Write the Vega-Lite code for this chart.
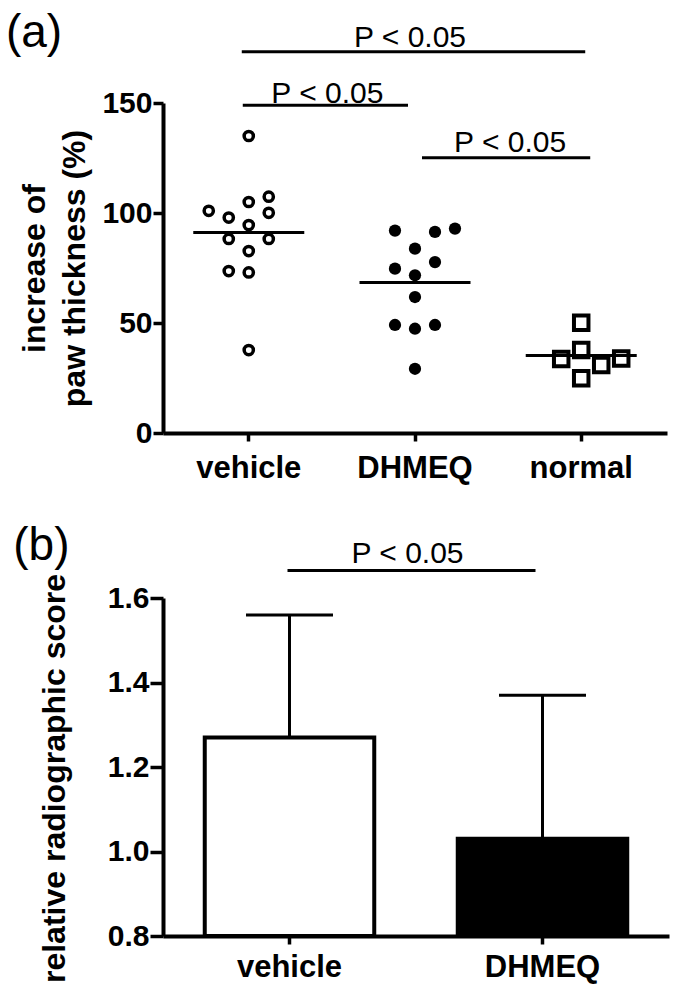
{
  "$schema": "https://vega.github.io/schema/vega-lite/v6.json",
  "background": "white",
  "padding": {"left": 5, "top": 9, "right": 5, "bottom": 5},
  "spacing": 39,
  "datasets": {
    "paw": [
      {"group": "vehicle", "value": 135, "col": 0},
      {"group": "vehicle", "value": 107.4, "col": 1},
      {"group": "vehicle", "value": 105, "col": 0},
      {"group": "vehicle", "value": 101, "col": -2},
      {"group": "vehicle", "value": 100.1, "col": 1},
      {"group": "vehicle", "value": 97.9, "col": -1},
      {"group": "vehicle", "value": 94.5, "col": 0},
      {"group": "vehicle", "value": 88.2, "col": -1},
      {"group": "vehicle", "value": 88.2, "col": 1},
      {"group": "vehicle", "value": 82.7, "col": 0},
      {"group": "vehicle", "value": 73.6, "col": -1},
      {"group": "vehicle", "value": 73, "col": 0},
      {"group": "vehicle", "value": 37.7, "col": 0},
      {"group": "DHMEQ", "value": 92.9, "col": 2},
      {"group": "DHMEQ", "value": 92, "col": -1},
      {"group": "DHMEQ", "value": 91.4, "col": 1},
      {"group": "DHMEQ", "value": 83.8, "col": 0},
      {"group": "DHMEQ", "value": 77.7, "col": 1},
      {"group": "DHMEQ", "value": 74.7, "col": -1},
      {"group": "DHMEQ", "value": 71.7, "col": 0},
      {"group": "DHMEQ", "value": 61.8, "col": 0},
      {"group": "DHMEQ", "value": 49.1, "col": -1},
      {"group": "DHMEQ", "value": 49.1, "col": 1},
      {"group": "DHMEQ", "value": 47.4, "col": 0},
      {"group": "DHMEQ", "value": 29.2, "col": 0},
      {"group": "normal", "value": 50.1, "col": 0},
      {"group": "normal", "value": 37.7, "col": 0},
      {"group": "normal", "value": 33.9, "col": 2},
      {"group": "normal", "value": 33.6, "col": -1},
      {"group": "normal", "value": 30.9, "col": 1},
      {"group": "normal", "value": 24.9, "col": 0}
    ],
    "paw_sig": [
      {"pair": "vn", "group": "vehicle", "group2": "normal", "value": 173.3, "label": "P < 0.05"},
      {"pair": "vd", "group": "vehicle", "group2": "DHMEQ", "value": 149, "label": "P < 0.05"},
      {"pair": "dn", "group": "DHMEQ", "group2": "normal", "value": 125.1, "label": "P < 0.05"}
    ],
    "radio": [
      {"group": "vehicle", "mean": 1.27, "upper": 1.56},
      {"group": "DHMEQ", "mean": 1.03, "upper": 1.37}
    ],
    "radio_sig": [
      {"group": "vehicle", "group2": "DHMEQ", "mean": 1.665, "label": "P < 0.05"}
    ]
  },
  "vconcat": [
    {
      "width": 504,
      "height": 330,
      "title": {"text": "(a)", "dx": -13, "dy": 34, "offset": 0},
      "layer": [
        {
          "data": {"name": "paw"},
          "encoding": {
            "x": {"field": "group", "type": "nominal",
                  "scale": {"type": "band", "domain": ["vehicle", "DHMEQ", "normal"], "paddingInner": 0, "paddingOuter": 0.016},
                  "axis": {"title": null, "labelAngle": 0, "tickSize": 8, "labelPadding": 12, "labelFontSize": 31}},
            "xOffset": {"field": "col", "type": "ordinal",
                        "scale": {"type": "point", "domain": [-2, -1, 0, 1, 2], "range": [43.1, 123.1], "padding": 0}},
            "y": {"field": "value", "type": "quantitative",
                  "scale": {"domain": [0, 150], "nice": false},
                  "axis": {"title": ["increase of", "paw thickness (%)"], "values": [0, 50, 100, 150], "tickSize": 10, "labelPadding": 1, "titlePadding": 10, "titleLineHeight": 40}}
          },
          "layer": [
            {
              "transform": [{"filter": "datum.group == 'vehicle'"}],
              "mark": {"type": "point", "shape": "circle", "filled": false, "stroke": "black", "strokeWidth": 3.5, "size": 85, "opacity": 1}
            },
            {
              "transform": [{"filter": "datum.group == 'DHMEQ'"}],
              "mark": {"type": "point", "shape": "circle", "filled": true, "color": "black", "size": 150, "opacity": 1}
            },
            {
              "transform": [{"filter": "datum.group == 'normal'"}],
              "mark": {"type": "point", "shape": "square", "filled": false, "stroke": "black", "strokeWidth": 4, "size": 210, "opacity": 1}
            }
          ]
        },
        {
          "data": {"name": "paw"},
          "mark": {"type": "tick", "color": "black", "size": 111, "thickness": 3, "opacity": 1},
          "encoding": {
            "x": {"field": "group", "type": "nominal",
                  "scale": {"type": "band", "domain": ["vehicle", "DHMEQ", "normal"], "paddingInner": 0, "paddingOuter": 0.016}},
            "y": {"aggregate": "mean", "field": "value", "type": "quantitative", "scale": {"domain": [0, 150], "nice": false}}
          }
        },
        {
          "data": {"name": "paw_sig"},
          "transform": [{"filter": "datum.pair == 'vn'"}],
          "layer": [
            {
              "mark": {"type": "rule", "color": "black", "strokeWidth": 3, "xOffset": -7, "x2Offset": 4},
              "encoding": {
                "x": {"field": "group", "type": "nominal", "scale": {"type": "band", "domain": ["vehicle", "DHMEQ", "normal"], "paddingInner": 0, "paddingOuter": 0.016}},
                "x2": {"field": "group2"},
                "y": {"field": "value", "type": "quantitative", "scale": {"domain": [0, 150], "nice": false}}
              }
            },
            {
              "mark": {"type": "text", "color": "black", "fontSize": 30, "font": "Liberation Sans", "align": "center", "baseline": "alphabetic", "dx": -5, "dy": -5},
              "encoding": {
                "x": {"datum": "DHMEQ", "type": "nominal", "scale": {"type": "band", "domain": ["vehicle", "DHMEQ", "normal"], "paddingInner": 0, "paddingOuter": 0.016}},
                "y": {"field": "value", "type": "quantitative", "scale": {"domain": [0, 150], "nice": false}},
                "text": {"field": "label"}
              }
            }
          ]
        },
        {
          "data": {"name": "paw_sig"},
          "transform": [{"filter": "datum.pair == 'vd'"}],
          "layer": [
            {
              "mark": {"type": "rule", "color": "black", "strokeWidth": 3, "xOffset": -6, "x2Offset": -7},
              "encoding": {
                "x": {"field": "group", "type": "nominal", "scale": {"type": "band", "domain": ["vehicle", "DHMEQ", "normal"], "paddingInner": 0, "paddingOuter": 0.016}},
                "x2": {"field": "group2"},
                "y": {"field": "value", "type": "quantitative", "scale": {"domain": [0, 150], "nice": false}}
              }
            },
            {
              "mark": {"type": "text", "color": "black", "fontSize": 30, "font": "Liberation Sans", "align": "center", "baseline": "alphabetic", "dx": -4.5, "dy": -2},
              "encoding": {
                "x": {"field": "group", "type": "nominal", "bandPosition": 1, "scale": {"type": "band", "domain": ["vehicle", "DHMEQ", "normal"], "paddingInner": 0, "paddingOuter": 0.016}},
                "y": {"field": "value", "type": "quantitative", "scale": {"domain": [0, 150], "nice": false}},
                "text": {"field": "label"}
              }
            }
          ]
        },
        {
          "data": {"name": "paw_sig"},
          "transform": [{"filter": "datum.pair == 'dn'"}],
          "layer": [
            {
              "mark": {"type": "rule", "color": "black", "strokeWidth": 3, "xOffset": 7, "x2Offset": 9},
              "encoding": {
                "x": {"field": "group", "type": "nominal", "scale": {"type": "band", "domain": ["vehicle", "DHMEQ", "normal"], "paddingInner": 0, "paddingOuter": 0.016}},
                "x2": {"field": "group2"},
                "y": {"field": "value", "type": "quantitative", "scale": {"domain": [0, 150], "nice": false}}
              }
            },
            {
              "mark": {"type": "text", "color": "black", "fontSize": 30, "font": "Liberation Sans", "align": "center", "baseline": "alphabetic", "dx": 12, "dy": -6},
              "encoding": {
                "x": {"field": "group", "type": "nominal", "bandPosition": 1, "scale": {"type": "band", "domain": ["vehicle", "DHMEQ", "normal"], "paddingInner": 0, "paddingOuter": 0.016}},
                "y": {"field": "value", "type": "quantitative", "scale": {"domain": [0, 150], "nice": false}},
                "text": {"field": "label"}
              }
            }
          ]
        }
      ]
    },
    {
      "width": 506,
      "height": 338,
      "title": {"text": "(b)", "dx": -25, "dy": 31, "offset": 0},
      "layer": [
        {
          "data": {"name": "radio"},
          "mark": {"type": "rule", "color": "black", "strokeWidth": 3},
          "encoding": {
            "x": {"field": "group", "type": "nominal",
                  "scale": {"type": "band", "domain": ["vehicle", "DHMEQ"], "paddingInner": 0.33, "paddingOuter": 0.165},
                  "axis": {"title": null, "labelAngle": 0, "tickSize": 8, "labelPadding": 8, "labelFontSize": 31}},
            "y": {"field": "mean", "type": "quantitative",
                  "scale": {"domain": [0.8, 1.6], "nice": false, "zero": false},
                  "axis": {"title": "relative radiographic score", "values": [0.8, 1.0, 1.2, 1.4, 1.6], "format": ".1f", "tickSize": 13, "labelPadding": 1, "titlePadding": 36, "titleY": 180}},
            "y2": {"field": "upper"}
          }
        },
        {
          "data": {"name": "radio"},
          "mark": {"type": "tick", "color": "black", "size": 87, "thickness": 3, "opacity": 1},
          "encoding": {
            "x": {"field": "group", "type": "nominal", "scale": {"type": "band", "domain": ["vehicle", "DHMEQ"], "paddingInner": 0.33, "paddingOuter": 0.165}},
            "y": {"field": "upper", "type": "quantitative", "scale": {"domain": [0.8, 1.6], "nice": false, "zero": false}}
          }
        },
        {
          "data": {"name": "radio"},
          "mark": {"type": "bar", "stroke": "black", "strokeWidth": 4, "opacity": 1, "width": 169.5},
          "encoding": {
            "x": {"field": "group", "type": "nominal", "scale": {"type": "band", "domain": ["vehicle", "DHMEQ"], "paddingInner": 0.33, "paddingOuter": 0.165}},
            "y": {"field": "mean", "type": "quantitative", "scale": {"domain": [0.8, 1.6], "nice": false, "zero": false}},
            "y2": {"datum": 0.8},
            "fill": {"field": "group", "type": "nominal", "scale": {"domain": ["vehicle", "DHMEQ"], "range": ["white", "black"]}, "legend": null}
          }
        },
        {
          "data": {"name": "radio_sig"},
          "layer": [
            {
              "mark": {"type": "rule", "color": "black", "strokeWidth": 3, "xOffset": -2, "x2Offset": -7},
              "encoding": {
                "x": {"field": "group", "type": "nominal", "scale": {"type": "band", "domain": ["vehicle", "DHMEQ"], "paddingInner": 0.33, "paddingOuter": 0.165}},
                "x2": {"field": "group2"},
                "y": {"field": "mean", "type": "quantitative", "scale": {"domain": [0.8, 1.6], "nice": false, "zero": false}}
              }
            },
            {
              "mark": {"type": "text", "color": "black", "fontSize": 30, "font": "Liberation Sans", "align": "center", "baseline": "alphabetic", "dx": 118, "dy": -8},
              "encoding": {
                "x": {"field": "group", "type": "nominal", "scale": {"type": "band", "domain": ["vehicle", "DHMEQ"], "paddingInner": 0.33, "paddingOuter": 0.165}},
                "y": {"field": "mean", "type": "quantitative", "scale": {"domain": [0.8, 1.6], "nice": false, "zero": false}},
                "text": {"field": "label"}
              }
            }
          ]
        }
      ]
    }
  ],
  "config": {
    "view": {"stroke": null},
    "font": "Liberation Sans",
    "axis": {
      "grid": false,
      "domainColor": "black",
      "domainWidth": 4,
      "tickColor": "black",
      "tickWidth": 3.5,
      "labelColor": "black",
      "titleColor": "black",
      "labelFont": "Liberation Sans",
      "titleFont": "Liberation Sans",
      "labelFontWeight": "bold",
      "titleFontWeight": "bold",
      "labelFontSize": 30,
      "titleFontSize": 32,
      "labelOverlap": false,
      "labelFlush": false
    },
    "title": {"font": "Liberation Sans", "fontWeight": "normal", "fontSize": 46, "color": "black", "anchor": "start", "frame": "bounds"}
  }
}
